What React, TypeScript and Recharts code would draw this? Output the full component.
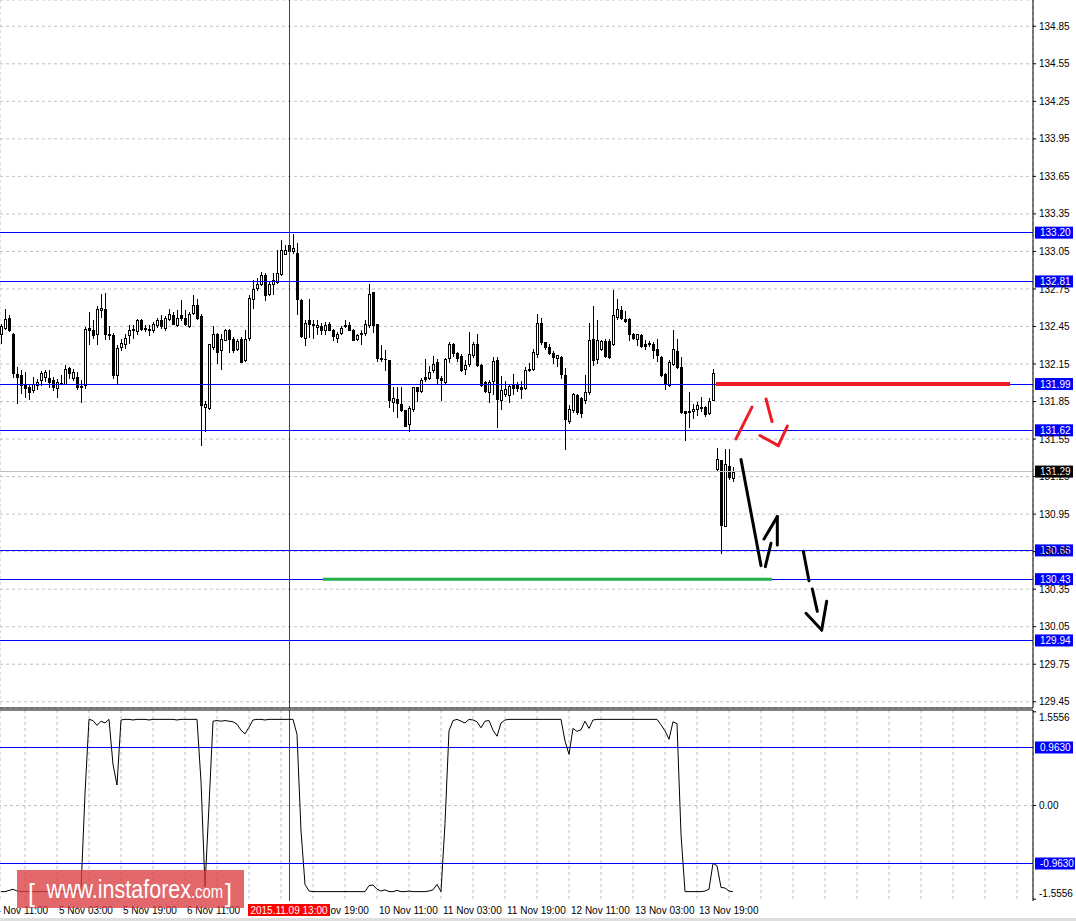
import React from 'react';
import { ComposedChart, Bar, Line, XAxis, YAxis, CartesianGrid, ReferenceLine } from 'recharts';

const FONT = '"Liberation Sans", Arial, sans-serif';
const W = 1076;
const X_DOMAIN: [number, number] = [-0.25, 258];
const PRICE_DOMAIN: [number, number] = [129.4, 135.06];
const IND_DOMAIN: [number, number] = [-1.5856, 1.5856];

// H1 candles, bar index 0..183
const opens = [
  132.39, 132.44, 132.52, 132.39, 132.07, 132.066, 131.986, 131.97, 131.943, 131.986,
  132.023, 132.045, 132.039, 132.023, 131.959, 131.994, 131.991, 132.12, 132.04, 132.05,
  131.973, 131.986, 132.44, 132.423, 132.391, 132.58, 132.59, 132.386, 132.378, 132.063,
  132.285, 132.311, 132.378, 132.43, 132.413, 132.498, 132.44, 132.43, 132.423, 132.458,
  132.503, 132.44, 132.506, 132.54, 132.461, 132.54, 132.52, 132.45, 132.56, 132.62,
  132.535, 131.81, 131.799, 132.285, 132.386, 132.258, 132.343, 132.423, 132.351, 132.271,
  132.351, 132.183, 132.36, 132.67, 132.76, 132.79, 132.86, 132.71, 132.79, 132.805,
  132.87, 133.03, 133.10, 133.05, 133.04, 132.66, 132.36, 132.498, 132.471, 132.445,
  132.45, 132.423, 132.471, 132.418, 132.36, 132.397, 132.455, 132.458, 132.418, 132.351,
  132.391, 132.397, 132.458, 132.722, 132.471, 132.202, 132.194, 132.186, 131.845, 131.871,
  131.831, 131.786, 131.671, 131.791, 131.965, 131.938, 132.05, 132.037, 132.103, 132.165,
  132.037, 132.005, 132.199, 132.311, 132.237, 132.218, 132.109, 132.151, 132.226, 132.306,
  132.143, 132.005, 131.925, 132.018, 132.183, 131.863, 131.911, 131.906, 131.986, 131.986,
  131.965, 131.959, 132.106, 132.111, 132.231, 132.477, 132.325, 132.285, 132.237, 132.199,
  132.21, 132.066, 131.698, 131.783, 131.906, 131.879, 131.863, 131.925, 132.351, 132.191,
  132.271, 132.33, 132.333, 132.311, 132.525, 132.583, 132.511, 132.506, 132.386, 132.351,
  132.378, 132.311, 132.317, 132.306, 132.271, 132.21, 132.071, 131.986, 132.151, 132.253,
  132.13, 131.773, 131.773, 131.778, 131.791, 131.805, 131.805, 131.757, 131.866, 131.311,
  131.383, 130.853, 131.338, 131.239,
];
const highs = [
  132.47, 132.59, 132.54, 132.40, 132.125, 132.106, 132.085, 131.986, 132.05, 132.031,
  132.093, 132.103, 132.103, 132.05, 132.031, 132.066, 132.146, 132.13, 132.11, 132.085,
  132.023, 132.445, 132.565, 132.498, 132.61, 132.71, 132.72, 132.45, 132.397, 132.298,
  132.351, 132.391, 132.458, 132.458, 132.51, 132.51, 132.458, 132.458, 132.485, 132.514,
  132.54, 132.53, 132.59, 132.565, 132.58, 132.66, 132.58, 132.565, 132.70, 132.67,
  132.55, 131.858, 132.306, 132.45, 132.397, 132.386, 132.43, 132.43, 132.365, 132.351,
  132.365, 132.418, 132.70, 132.82, 132.84, 132.885, 132.88, 132.81, 132.88, 133.06,
  133.14, 133.10, 133.15, 133.19, 133.12, 132.67, 132.498, 132.67, 132.503, 132.503,
  132.476, 132.485, 132.485, 132.43, 132.405, 132.45, 132.498, 132.485, 132.43, 132.391,
  132.418, 132.503, 132.786, 132.722, 132.471, 132.298, 132.263, 132.186, 131.97, 131.965,
  131.97, 131.786, 131.818, 131.97, 131.97, 132.039, 132.191, 132.138, 132.218, 132.191,
  132.058, 132.199, 132.325, 132.317, 132.245, 132.231, 132.183, 132.405, 132.325, 132.391,
  132.151, 132.018, 132.023, 132.21, 132.21, 132.058, 132.018, 131.991, 132.071, 132.005,
  132.018, 132.13, 132.157, 132.271, 132.546, 132.519, 132.325, 132.306, 132.253, 132.226,
  132.218, 132.119, 131.826, 131.917, 131.911, 131.885, 132.066, 132.477, 132.61, 132.503,
  132.343, 132.351, 132.351, 132.743, 132.671, 132.61, 132.573, 132.519, 132.397, 132.391,
  132.386, 132.338, 132.333, 132.325, 132.351, 132.218, 132.077, 132.183, 132.418, 132.351,
  132.205, 131.778, 131.925, 131.831, 131.845, 131.885, 131.818, 131.879, 132.111, 131.479,
  131.383, 131.471, 131.471, 131.325,
];
const lows = [
  132.32, 132.43, 132.41, 132.045, 131.84, 131.92, 131.885, 131.87, 131.925, 131.951,
  131.986, 132.018, 131.965, 131.943, 131.885, 131.991, 131.991, 132.039, 132.02, 131.951,
  131.845, 131.959, 132.311, 132.36, 132.306, 132.525, 132.349, 132.351, 132.039, 131.991,
  132.258, 132.279, 132.317, 132.36, 132.391, 132.418, 132.41, 132.378, 132.405, 132.445,
  132.44, 132.423, 132.498, 132.466, 132.455, 132.498, 132.458, 132.445, 132.546, 132.51,
  131.503, 131.618, 131.791, 132.271, 132.157, 132.111, 132.338, 132.245, 132.245, 132.258,
  132.165, 132.178, 132.343, 132.60, 132.74, 132.78, 132.66, 132.70, 132.71, 132.80,
  132.86, 133.03, 133.04, 133.04, 132.55, 132.365, 132.303, 132.365, 132.36, 132.391,
  132.391, 132.391, 132.418, 132.343, 132.325, 132.386, 132.445, 132.418, 132.338, 132.343,
  132.311, 132.378, 132.445, 132.405, 132.178, 132.178, 132.103, 131.805, 131.778, 131.725,
  131.778, 131.658, 131.613, 131.778, 131.858, 131.925, 132.018, 132.031, 132.085, 131.991,
  131.863, 131.999, 132.165, 132.218, 132.178, 132.098, 132.071, 132.138, 132.205, 132.138,
  131.978, 131.925, 131.845, 131.911, 131.645, 131.791, 131.898, 131.845, 131.911, 131.938,
  131.879, 131.951, 132.098, 132.103, 132.205, 132.311, 132.271, 132.231, 132.157, 132.138,
  132.039, 131.471, 131.677, 131.765, 131.751, 131.73, 131.837, 131.911, 132.146, 132.157,
  132.263, 132.21, 132.199, 132.298, 132.511, 132.511, 132.485, 132.343, 132.351, 132.298,
  132.285, 132.271, 132.29, 132.199, 132.178, 132.058, 131.951, 131.978, 132.146, 132.119,
  131.757, 131.543, 131.645, 131.719, 131.746, 131.773, 131.738, 131.751, 131.863, 131.30,
  130.637, 130.853, 131.231, 131.213,
];
const closes = [
  132.455, 132.51, 132.42, 132.08, 132.045, 131.986, 131.96, 131.93, 131.991, 132.007,
  132.077, 132.085, 132.007, 131.965, 132.005, 131.999, 132.111, 132.077, 132.09, 131.965,
  131.965, 132.43, 132.423, 132.381, 132.59, 132.60, 132.39, 132.378, 132.066, 132.277,
  132.317, 132.36, 132.423, 132.418, 132.503, 132.43, 132.426, 132.418, 132.466, 132.503,
  132.45, 132.52, 132.55, 132.471, 132.52, 132.52, 132.466, 132.55, 132.62, 132.52,
  131.823, 131.831, 132.306, 132.391, 132.245, 132.351, 132.418, 132.351, 132.258, 132.333,
  132.165, 132.351, 132.68, 132.75, 132.79, 132.86, 132.70, 132.79, 132.82, 132.88,
  133.06, 133.06, 133.05, 133.08, 132.67, 132.37, 132.48, 132.466, 132.458, 132.463,
  132.418, 132.463, 132.423, 132.37, 132.391, 132.44, 132.463, 132.423, 132.343, 132.378,
  132.397, 132.471, 132.711, 132.463, 132.197, 132.189, 132.189, 131.863, 131.879, 131.837,
  131.783, 131.658, 131.799, 131.965, 131.938, 132.023, 132.031, 132.09, 132.151, 132.037,
  132.026, 132.191, 132.306, 132.237, 132.199, 132.103, 132.146, 132.231, 132.306, 132.146,
  131.986, 131.938, 132.005, 132.173, 131.871, 131.943, 131.951, 131.978, 131.959, 131.959,
  131.951, 132.103, 132.111, 132.245, 132.477, 132.325, 132.285, 132.237, 132.205, 132.226,
  132.071, 131.711, 131.791, 131.911, 131.765, 131.757, 131.925, 132.343, 132.183, 132.338,
  132.33, 132.218, 132.21, 132.538, 132.591, 132.519, 132.493, 132.391, 132.359, 132.386,
  132.29, 132.295, 132.306, 132.263, 132.226, 132.063, 131.991, 132.165, 132.266, 132.125,
  131.765, 131.757, 131.765, 131.791, 131.826, 131.81, 131.751, 131.853, 132.079, 131.391,
  130.866, 131.351, 131.245, 131.285,
];
// oscillator in the lower window
const indicator = [
  -1.43, -1.43, -1.41, -1.39, -1.42, -1.43, -1.43, -1.43, -1.43, -1.43,
  -1.43, -1.43, -1.43, -1.43, -1.43, -1.43, -1.43, -1.43, -1.43, -1.43,
  -1.40, 0.2, 1.43, 1.41, 1.33, 1.40, 1.37, 1.43, 0.68, 0.34,
  1.42, 1.43, 1.43, 1.42, 1.43, 1.43, 1.43, 1.42, 1.43, 1.43,
  1.43, 1.43, 1.43, 1.43, 1.42, 1.43, 1.43, 1.43, 1.43, 1.43,
  0.4, -1.35, 0.0, 1.40, 1.41, 1.40, 1.41, 1.40, 1.39, 1.35,
  1.25, 1.19, 1.30, 1.42, 1.43, 1.43, 1.42, 1.43, 1.43, 1.43,
  1.43, 1.43, 1.43, 1.43, 1.18, -0.42, -1.31, -1.42, -1.43, -1.43,
  -1.43, -1.43, -1.43, -1.43, -1.43, -1.43, -1.43, -1.43, -1.43, -1.43,
  -1.43, -1.43, -1.33, -1.32, -1.39, -1.42, -1.40, -1.43, -1.43, -1.41,
  -1.43, -1.43, -1.42, -1.43, -1.43, -1.43, -1.43, -1.42, -1.40, -1.31,
  -1.43, -0.3, 1.24, 1.41, 1.43, 1.40, 1.37, 1.43, 1.42, 1.39,
  1.29, 1.40, 1.41, 1.25, 1.15, 1.37, 1.42, 1.43, 1.43, 1.43,
  1.43, 1.43, 1.43, 1.43, 1.43, 1.43, 1.43, 1.43, 1.43, 1.43,
  1.43, 1.07, 0.85, 1.28, 1.23, 1.26, 1.40, 1.28, 1.42, 1.43,
  1.43, 1.43, 1.43, 1.43, 1.43, 1.43, 1.43, 1.43, 1.43, 1.43,
  1.43, 1.43, 1.43, 1.43, 1.43, 1.34, 1.24, 1.10, 1.39, 1.36,
  -0.48, -1.43, -1.43, -1.43, -1.43, -1.43, -1.42, -1.39, -0.96, -1.0,
  -1.36, -1.37, -1.42, -1.43,
];

const priceTicks = [129.45, 129.75, 130.05, 130.35, 130.65, 130.95, 131.25, 131.55, 131.85, 132.15, 132.45, 132.75, 133.05, 133.35, 133.65, 133.95, 134.25, 134.55, 134.85];
const gridTicks = [6, 14, 22, 30, 38, 46, 54, 62, 70, 78, 86, 94, 102, 110, 118, 126, 134, 142, 150, 158, 166, 174, 182, 190, 198, 206, 214, 222, 230, 238, 246, 254];
const timeTicks = [-2, 14, 30, 46, 62, 78, 94, 110, 126, 142, 158, 174];
const timeLabels = ['4 Nov 11:00', '5 Nov 03:00', '5 Nov 19:00', '6 Nov 11:00', '9 Nov 03:00', '9 Nov 19:00', '10 Nov 11:00', '11 Nov 03:00', '11 Nov 19:00', '12 Nov 11:00', '13 Nov 03:00', '13 Nov 19:00'];
const indTicks = [1.5556, 0, -1.5556];
const indTickLabels = ['1.5556', '0.00', '-1.5556'];

const blueLevels = [133.20, 132.81, 131.99, 131.62, 130.66, 130.43, 129.94];
const blueLevelLabels = ['133.20', '132.81', '131.99', '131.62', '130.66', '130.43', '129.94'];
const lastPrice = 131.29;
const indLevels = [0.963, -0.963];
const indLevelLabels = ['0.9630', '-0.9630'];
const cursorBar = 72;
const cursorLabel = '2015.11.09 13:00';

// hand drawn annotations: polylines of [bar, price]
const resistanceLine = [[178.75, 131.99], [252.25, 131.99]];
const supportLine = [[80.5, 130.43], [192.75, 130.43]];
const redStrokes = [
  [[183.75, 131.551], [187.75, 131.805]],
  [[191.25, 131.871], [192.75, 131.69]],
  [[189.75, 131.578], [194.33, 131.498], [196.58, 131.653]],
];
const blackStrokes = [
  [[185, 131.386], [190, 130.538]],
  [[191.08, 130.53], [192.5, 130.717]],
  [[190.75, 130.751], [194.08, 130.93], [194.08, 130.703]],
  [[200.58, 130.653], [202, 130.418]],
  [[202.83, 130.351], [204.08, 130.173]],
  [[201.25, 130.157], [205.17, 130.023], [206.42, 130.253]],
];

const data = opens.map((o, i) => ({
  k: i,
  open: o,
  high: highs[i],
  low: lows[i],
  close: closes[i],
  range: [lows[i], highs[i]],
  ind: indicator[i],
}));

const Candle = (props: any) => {
  const { x, y, width, height, payload } = props;
  if (x == null || y == null || !payload) return null;
  const top = Math.min(y, y + height);
  const bot = Math.max(y, y + height);
  const { open, close, high, low } = payload;
  const span = high - low;
  const py = (p: number) => (span > 0 ? top + ((high - p) / span) * (bot - top) : top);
  const cx = Math.round(x + width / 2);
  const yo = py(open);
  const yc = py(close);
  const bTop = Math.round(Math.min(yo, yc));
  const bBot = Math.round(Math.max(yo, yc));
  const bull = close >= open;
  return (
    <g>
      <line x1={cx + 0.5} x2={cx + 0.5} y1={Math.round(top)} y2={Math.round(bot) + 1} stroke="#000" strokeWidth={1} shapeRendering="crispEdges" />
      {bull ? (
        <rect x={cx - 0.5} y={bTop + 0.5} width={2} height={Math.max(bBot - bTop, 1)} fill="#fff" stroke="#000" strokeWidth={1} shapeRendering="crispEdges" />
      ) : (
        <rect x={cx - 1} y={bTop} width={3} height={Math.max(bBot - bTop + 1, 1)} fill="#000" shapeRendering="crispEdges" />
      )}
    </g>
  );
};

const boxLabel = (text: string, fill: string, w: number) => (props: any) => {
  const vb = props.viewBox || {};
  const right = (vb.x || 0) + (vb.width || 0);
  const cy = vb.y || 0;
  return (
    <g>
      <rect x={right + 2} y={cy - 6} width={w} height={12} fill={fill} />
      <text x={right + 7} y={cy + 3.5} fill="#fff" fontSize={10} fontFamily={FONT}>{text}</text>
    </g>
  );
};

// the time axis sits at y=192 inside the 212px lower chart; labels go just under it
const TIME_LABEL_BASELINE = 205;
const TimeTick = (props: any) => {
  const { x, payload } = props;
  if (payload.value === cursorBar) {
    return (
      <g>
        <rect x={x - 41} y={195} width={82} height={12} fill="#ff0000" />
        <text x={x} y={204.5} fill="#fff" fontSize={10} fontFamily={FONT} textAnchor="middle">{cursorLabel}</text>
      </g>
    );
  }
  const idx = timeTicks.indexOf(payload.value);
  return (
    <text x={x + 2} y={TIME_LABEL_BASELINE} fill="#000" fontSize={10} fontFamily={FONT} textAnchor="start">
      {idx >= 0 ? timeLabels[idx] : ''}
    </text>
  );
};

const IndTick = (props: any) => {
  const { x, y, payload } = props;
  const idx = indTicks.indexOf(payload.value);
  const dy = payload.value > 0 ? 6 : payload.value < 0 ? -6 : 0;
  return (
    <text x={x} y={y + dy + 3.5} fill="#000" fontSize={10} fontFamily={FONT} textAnchor="start">
      {idx >= 0 ? indTickLabels[idx] : ''}
    </text>
  );
};

const seg = (pts: number[][]) => pts.slice(1).map((p, i) => [pts[i], p]);

export default function App() {
  return (
    <div style={{ position: 'absolute', left: 0, top: 0, width: W, height: 921, background: '#fff', overflow: 'hidden' }}>
      <div style={{ position: 'absolute', left: 0, top: 0 }}>
        <ComposedChart width={W} height={709} data={data} margin={{ top: 0, right: 0, bottom: 0, left: 0 }}>
          <XAxis xAxisId="g" dataKey="k" type="number" domain={X_DOMAIN} ticks={gridTicks} interval={0} tick={false} tickLine={false} height={1} axisLine={{ stroke: '#000' }} allowDataOverflow />
          <YAxis yAxisId="p" orientation="right" width={43} type="number" domain={PRICE_DOMAIN} ticks={priceTicks} interval={0} allowDataOverflow
            tickFormatter={(v: number) => v.toFixed(2)} tick={{ fontSize: 10, fill: '#000', fontFamily: FONT }} tickSize={3} tickMargin={3}
            tickLine={{ stroke: '#000' }} axisLine={{ stroke: '#000' }} />
          <CartesianGrid xAxisId="g" yAxisId="p" stroke="#c0c0c0" strokeDasharray="3 3" />
          <ReferenceLine xAxisId="g" yAxisId="p" y={lastPrice} stroke="#c0c0c0" shapeRendering="crispEdges" label={boxLabel(lastPrice.toFixed(2), '#000', 38)} />
          {blueLevels.map((v, i) => (
            <ReferenceLine key={'b' + i} xAxisId="g" yAxisId="p" y={v} stroke="#0000ff" shapeRendering="crispEdges" label={boxLabel(blueLevelLabels[i], '#0000ff', 38)} />
          ))}
          <ReferenceLine xAxisId="g" yAxisId="p" x={cursorBar} stroke="#e00000" shapeRendering="crispEdges" />
          <Bar xAxisId="g" yAxisId="p" dataKey="range" barSize={3} shape={<Candle />} isAnimationActive={false} />
          <ReferenceLine xAxisId="g" yAxisId="p" segment={[{ x: resistanceLine[0][0], y: resistanceLine[0][1] }, { x: resistanceLine[1][0], y: resistanceLine[1][1] }]} stroke="#ed1c24" strokeWidth={4} />
          <ReferenceLine xAxisId="g" yAxisId="p" segment={[{ x: supportLine[0][0], y: supportLine[0][1] }, { x: supportLine[1][0], y: supportLine[1][1] }]} stroke="#22b14c" strokeWidth={3} />
          {redStrokes.flatMap((s, i) => seg(s).map((pp, j) => (
            <ReferenceLine key={`r${i}-${j}`} xAxisId="g" yAxisId="p" segment={[{ x: pp[0][0], y: pp[0][1] }, { x: pp[1][0], y: pp[1][1] }]} stroke="#ed1c24" strokeWidth={3} strokeLinecap="round" />
          )))}
          {blackStrokes.flatMap((s, i) => seg(s).map((pp, j) => (
            <ReferenceLine key={`k${i}-${j}`} xAxisId="g" yAxisId="p" segment={[{ x: pp[0][0], y: pp[0][1] }, { x: pp[1][0], y: pp[1][1] }]} stroke="#000" strokeWidth={3} strokeLinecap="round" />
          )))}
        </ComposedChart>
      </div>
      <div style={{ position: 'absolute', left: 0, top: 709 }}>
        <ComposedChart width={W} height={212} data={data} margin={{ top: 0, right: 0, bottom: 0, left: 0 }}>
          <XAxis xAxisId="top" orientation="top" dataKey="k" type="number" domain={X_DOMAIN} height={1} tick={false} tickLine={false} axisLine={{ stroke: '#000' }} allowDataOverflow />
          <XAxis xAxisId="g" dataKey="k" type="number" domain={X_DOMAIN} ticks={gridTicks} interval={0} hide allowDataOverflow />
          <XAxis xAxisId="t" dataKey="k" type="number" domain={X_DOMAIN} ticks={[...timeTicks, cursorBar]} interval={0} height={20} tick={<TimeTick />} tickSize={4} tickMargin={2}
            tickLine={{ stroke: '#000' }} axisLine={{ stroke: '#000' }} allowDataOverflow />
          <YAxis yAxisId="i" orientation="right" width={43} type="number" domain={IND_DOMAIN} ticks={indTicks} interval={0} allowDataOverflow
            tick={<IndTick />} tickSize={3} tickMargin={3} tickLine={{ stroke: '#000' }} axisLine={{ stroke: '#000' }} />
          <CartesianGrid xAxisId="g" yAxisId="i" horizontal={false} stroke="#c0c0c0" strokeDasharray="3 3" />
          <ReferenceLine xAxisId="g" yAxisId="i" y={0} stroke="#c0c0c0" strokeDasharray="3 3" />
          {indLevels.map((v, i) => (
            <ReferenceLine key={'i' + i} xAxisId="g" yAxisId="i" y={v} stroke="#0000ff" shapeRendering="crispEdges" label={boxLabel(indLevelLabels[i], '#0000ff', i === 1 ? 40 : 38)} />
          ))}
          <ReferenceLine xAxisId="g" yAxisId="i" x={cursorBar} stroke="#e00000" shapeRendering="crispEdges" />
          <Line xAxisId="g" yAxisId="i" type="linear" dataKey="ind" stroke="#000" strokeWidth={1} dot={false} isAnimationActive={false} />
        </ComposedChart>
      </div>
      <div style={{ position: 'absolute', left: 17, top: 870, width: 227, height: 38, background: 'rgba(218, 62, 66, 0.78)' }}>
        <svg width={227} height={38} style={{ display: 'block' }}>
          <text x={11} y={32} fill="#fff" fontSize={25} fontFamily={FONT}>[</text>
          <text x={29.5} y={28} fill="#fff" fontSize={25} fontFamily={FONT} textLength={144.5} lengthAdjust="spacingAndGlyphs">www.instaforex</text>
          <text x={174} y={28} fill="#fff" fontSize={18} fontFamily={FONT} textLength={32} lengthAdjust="spacingAndGlyphs">.com</text>
          <text x={208} y={32} fill="#fff" fontSize={25} fontFamily={FONT}>]</text>
        </svg>
      </div>
      <div style={{ position: 'absolute', left: 0, top: 918, width: W, height: 3, background: '#dedede' }} />
    </div>
  );
}
